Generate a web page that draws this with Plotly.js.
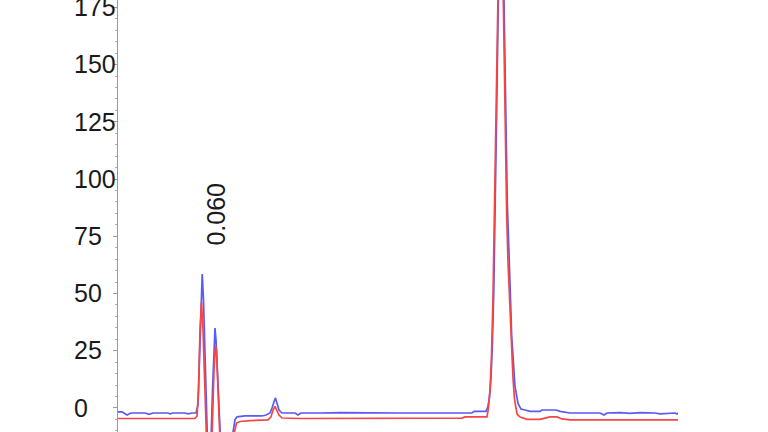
<!DOCTYPE html>
<html>
<head>
<meta charset="utf-8">
<script src="https://cdn.plot.ly/plotly-3.0.1.min.js"></script>
<style>html,body{margin:0;padding:0;background:#fff}#chart{width:768px;height:432px}</style>
</head>
<body>
<div id="chart"></div>
<script>
// Time (min) and signal values
const blueTime = [0.000,0.071,0.161,0.232,0.482,0.554,0.625,0.893,0.929,0.982,1.196,1.250,1.321,1.393,1.429,1.455,1.482,1.504,1.527,1.554,1.580,1.607,1.634,1.661,1.688,1.714,1.732,1.750,1.777,1.804,1.839,1.893,1.964,2.018,2.054,2.089,2.125,2.268,2.446,2.571,2.643,2.714,2.750,2.786,2.809,2.839,2.875,2.929,3.161,3.214,3.268,3.607,3.964,5.036,5.929,6.321,6.357,6.571,6.604,6.630,6.657,6.684,6.711,6.738,6.764,6.791,6.818,6.845,6.871,6.898,6.929,6.952,6.973,7.000,7.030,7.063,7.089,7.143,7.196,7.268,7.357,7.536,7.571,7.821,7.893,8.071,8.607,8.679,8.732,8.964,9.143,9.321,9.589,9.679,9.946,9.982,10.000];
const blueSignal = [-1.7,-1.7,-3.1,-2.2,-2.2,-2.8,-2.2,-2.2,-2.6,-2.2,-2.2,-2.6,-2.2,-2.2,1.3,21,47,58.5,47,16.6,-9.6,-22.7,-27,-14,7.9,29.7,34.9,29.7,12.2,-5.2,-18.3,-27,-27,-20.5,-10.5,-5.2,-3.9,-3.5,-3.5,-3.5,-3.1,-2.2,0,3.5,4.4,2.2,-0.9,-2.2,-2.2,-3.1,-2.2,-2.2,-2.0,-2.2,-2.2,-2.2,-1.5,-1.5,0.5,4,11.5,26.5,51.5,87.5,132.5,177.5,211.5,224.5,211.5,177.5,123.5,89.5,68.5,54.5,31.5,18.5,9.5,2,-0.5,-0.9,-1.5,-1.5,-0.9,-0.9,-1.5,-2.2,-2.2,-3.1,-2.2,-2.0,-2.4,-2.0,-2.2,-2.6,-2.2,-2.6,-2.2];

const redTime = [0.000,1.375,1.411,1.438,1.464,1.491,1.518,1.545,1.571,1.598,1.625,1.661,1.688,1.714,1.741,1.759,1.786,1.813,1.839,1.911,1.982,2.036,2.080,2.116,2.179,2.357,2.679,2.732,2.768,2.804,2.839,2.875,2.929,3.250,6.143,6.196,6.589,6.616,6.643,6.670,6.696,6.723,6.750,6.777,6.804,6.830,6.857,6.884,6.916,6.941,6.964,6.991,7.021,7.054,7.080,7.125,7.179,7.232,7.304,7.536,7.625,7.714,7.839,7.929,8.071,10.000];
const redSignal = [-4.6,-4.6,-3.5,7.9,34,46.3,34,7.9,-14,-27,-31,-22.7,-5.2,16.6,27,25.3,7.9,-14,-24.9,-30.6,-29,-20.5,-10.5,-6.6,-5.9,-5.5,-5.2,-3.9,-0.9,0.7,-0.9,-3.1,-4.4,-4.6,-4.4,-3.9,-3.9,0,8,23,48,84,128,173,207,220,207,173,118,84,64,48,26,13,4,-2.6,-4,-4.4,-5,-5,-4.4,-3.9,-3.9,-4.8,-5.2,-5.2];

const yTicks = [0,25,50,75,100,125,150,175];
const peakLabel = "0.060";
const peakLabelTime = 1.759;
const peakLabelY = 84.7;

const yRange = [-10.5, 178.2];
const fontFam = "Liberation Sans, Arial, sans-serif";

const traces = [
  {x: blueTime, y: blueSignal, type: 'scatter', mode: 'lines', line: {color: '#5a5af5', width: 1.7}, hoverinfo: 'skip', xaxis: 'x', yaxis: 'y'},
  {x: redTime, y: redSignal, type: 'scatter', mode: 'lines', line: {color: '#f54646', width: 1.7}, hoverinfo: 'skip', xaxis: 'x', yaxis: 'y'},
  {x: [null], y: [null], xaxis: 'x', yaxis: 'y2', type: 'scatter', mode: 'lines', hoverinfo: 'skip'}
];

const layout = {
  width: 768, height: 432,
  margin: {l: 0, r: 90, t: 0, b: 0, pad: 0},
  paper_bgcolor: '#fff', plot_bgcolor: '#fff',
  showlegend: false,
  font: {family: fontFam, color: '#1a1a1a', size: 25},
  xaxis: {domain: [118/678, 1], range: [0, 10], visible: false, fixedrange: true},
  yaxis: {
    range: yRange, showticklabels: false, showline: true, linecolor: '#9a9a9a', linewidth: 1,
    ticks: 'outside', ticklen: 4, tickcolor: '#9a9a9a', tickvals: yTicks,
    minor: {dtick: 5, ticks: 'outside', ticklen: 2, tickcolor: '#b0b0b0'},
    showgrid: false, zeroline: false, fixedrange: true
  },
  yaxis2: {
    overlaying: 'y', anchor: 'free', side: 'right', position: 73/678,
    range: yRange, tickvals: yTicks, ticktext: yTicks.map(String),
    ticks: '', showline: false, showgrid: false, zeroline: false,
    ticklabeloverflow: 'allow',
    tickfont: {family: fontFam, size: 25, color: '#1a1a1a'}, fixedrange: true
  },
  annotations: [{
    x: peakLabelTime, y: peakLabelY, xref: 'x', yref: 'y', text: peakLabel, textangle: -90,
    showarrow: false, font: {family: fontFam, size: 25, color: '#1a1a1a'}
  }]
};

Plotly.newPlot('chart', traces, layout, {staticPlot: true, displayModeBar: false});
</script>
</body>
</html>
